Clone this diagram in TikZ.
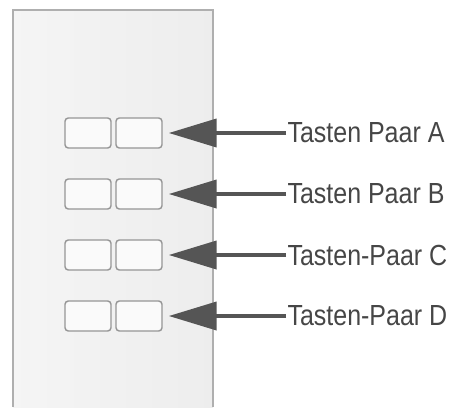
\documentclass[tikz,border=0pt]{standalone}
\usepackage{fontspec}
\setmainfont{Liberation Sans}
\newfontfamily\schmal[FakeStretch=0.86]{Liberation Sans}
\usetikzlibrary{arrows.meta}

\definecolor{rahmengrau}{RGB}{175,175,175}
\definecolor{tastengrau}{RGB}{150,150,150}
\definecolor{pfeilgrau}{RGB}{85,85,85}
\definecolor{textgrau}{RGB}{70,70,70}

\tikzset{every picture/.style={line width=0.75pt}}
\tikzset{
  taste/.style={draw=tastengrau, fill=white!98!black, line width=1.1pt, rounded corners=2.5pt,
    minimum width=34.5pt, minimum height=22.5pt, inner sep=0pt},
  etikett/.style={anchor=west, inner sep=0.75pt, text=textgrau, font=\schmal\fontsize{21.8}{26}\selectfont},
  pfeil/.style={draw=pfeilgrau, line width=3pt, shorten >=4.5pt,
    -{Triangle[length=36pt, width=21pt]}}
}

\begin{document}
\begin{tikzpicture}[x=0.75pt,y=0.75pt,yscale=-1,xscale=1]
\useasboundingbox (0,0) rectangle (452,407);

%Shape: Panel
\shade [left color=black!4, middle color=white!99!black, right color=black!7] (13,10) rectangle (213,407);
\draw [draw=rahmengrau, line width=1.1pt] (13,407) -- (13,10) -- (213,10) -- (213,407);

%Buttons
\node [taste] (tA1) at (88,133) {};
\node [taste] (tA2) at (139,133) {};
\node [taste] (tB1) at (88,194) {};
\node [taste] (tB2) at (139,194) {};
\node [taste] (tC1) at (88,255) {};
\node [taste] (tC2) at (139,255) {};
\node [taste] (tD1) at (88,316) {};
\node [taste] (tD2) at (139,316) {};

% Text Node
\node [etikett] (lblA) at (286,133) {Tasten Paar A};
% Text Node
\node [etikett] (lblB) at (286,194) {Tasten Paar B};
% Text Node
\node [etikett] (lblC) at (286,255) {Tasten-Paar C};
% Text Node
\node [etikett] (lblD) at (286,316) {Tasten-Paar D};

%Arrows
\draw [pfeil] (lblA.west) -- (tA2.east);
\draw [pfeil] (lblB.west) -- (tB2.east);
\draw [pfeil] (lblC.west) -- (tC2.east);
\draw [pfeil] (lblD.west) -- (tD2.east);

\end{tikzpicture}
\end{document}
